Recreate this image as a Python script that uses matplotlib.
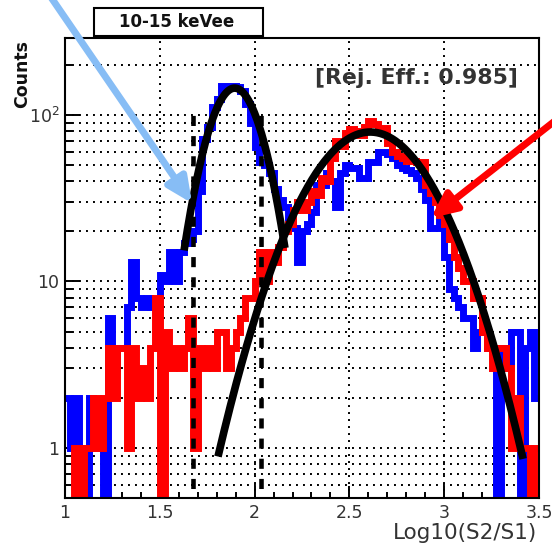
import numpy as np
import matplotlib
matplotlib.use('Agg')
import matplotlib.pyplot as plt
from matplotlib.ticker import FixedLocator, MultipleLocator, LogLocator, NullFormatter
from matplotlib.patches import Rectangle

# histogram binning (Log10(S2/S1))
BIN_LO, BIN_HI, N_BINS = 1.0, 3.5, 100

# counts per bin
blue_counts = [2, 1, 2, 1, 0, 2, 1, 1, 0, 6,
               3, 4, 4, 7, 13, 8, 7, 8, 7, 7,
               11, 10, 15, 10, 15, 17, 18, 20, 35, 72,
               85, 111, 125, 150, 150, 150, 148, 140, 116, 90,
               64, 52, 50, 45, 36, 31, 28, 23, 21, 13,
               20, 22, 26, 38, 38, 45, 40, 28, 45, 50,
               48, 48, 42, 42, 52, 52, 60, 60, 58, 55,
               50, 48, 47, 45, 42, 36, 31, 21, 21, 24,
               14, 9, 8, 7, 6, 6, 4, 5, 5, 4,
               4, 0, 4, 3, 5, 5, 0, 4, 5, 2]

red_counts = [0, 0, 1, 0, 1, 1, 2, 1, 2, 4,
              2, 4, 4, 1, 4, 2, 3, 2, 4, 8,
              0, 5, 3, 4, 3, 4, 6, 1, 4, 3,
              4, 3, 5, 5, 3, 4, 5, 6, 8, 8,
              10, 15, 10, 15, 13, 16, 20, 22, 27, 30,
              27, 30, 35, 33, 42, 40, 55, 70, 65, 78,
              82, 80, 76, 85, 92, 88, 84, 84, 68, 60,
              57, 55, 53, 53, 52, 52, 38, 34, 30, 25,
              22, 18, 14, 12, 10, 10, 8, 8, 5, 4,
              3, 4, 4, 3, 1, 2, 1, 1, 0, 1]

# gaussian fits: constant, mean, sigma, range
blue_fit = [145.0, 1.895, 0.126, 1.628, 2.160]
red_fit = [79.0, 2.61, 0.268, 1.807, 3.416]

# selection cut lines
cut_x = [1.675, 2.035]
cut_top = 108.0

x_ticks = [1.0, 1.5, 2.0, 2.5, 3.0, 3.5]
x_ticklabels = ['1', '1.5', '2', '2.5', '3', '3.5']
y_ticks = [1, 10, 100]
y_ticklabels = ['1', '10', r'$10^{2}$']

plt.rcParams['font.family'] = ['DejaVu Sans']
plt.rcParams['mathtext.default'] = 'regular'

W, H = 552, 548
fig = plt.figure(figsize=(W / 100, H / 100), dpi=100)
ax = fig.add_axes([65 / W, 1 - 498 / H, 474 / W, 460 / H])
ax.set_yscale('log')
ax.set_xlim(BIN_LO, BIN_HI)
ax.set_ylim(0.5, 290)

# grid
dots = (0, (1, 2.6))
ax.grid(True, which='major', axis='x', color='black', lw=1.4, linestyle=dots)
ax.grid(True, which='both', axis='y', color='black', lw=1.4, linestyle=dots)
ax.set_axisbelow(True)

edges = np.linspace(BIN_LO, BIN_HI, N_BINS + 1)
for counts, col in [(blue_counts, '#0000ff'), (red_counts, '#ff0000')]:
    c = np.asarray(counts, dtype=float)
    c = np.where(c > 0, c, 1e-3)
    ax.stairs(c, edges, color=col, lw=5, baseline=None,
              joinstyle='miter', capstyle='butt', zorder=1)

for xc in cut_x:
    ax.plot([xc, xc], [1e-3, cut_top], color='black', lw=3.3,
            linestyle=(0, (2.2, 2.2)), zorder=2.5)

for const, mu, sig, lo, hi in [blue_fit, red_fit]:
    xs = np.linspace(lo, hi, 300)
    ax.plot(xs, const * np.exp(-0.5 * ((xs - mu) / sig) ** 2), color='black',
            lw=5.5, solid_capstyle='butt', zorder=3)

# ticks
ax.xaxis.set_major_locator(FixedLocator(x_ticks))
ax.set_xticklabels(x_ticklabels)
ax.xaxis.set_minor_locator(MultipleLocator(0.1))
ax.yaxis.set_major_locator(FixedLocator(y_ticks))
ax.set_yticklabels(y_ticklabels)
ax.yaxis.set_minor_locator(LogLocator(base=10, subs=np.arange(2, 10)))
ax.yaxis.set_minor_formatter(NullFormatter())
ax.tick_params(axis='both', which='both', direction='in', top=False, right=False,
               width=1.4, colors='black', labelcolor='#333333', labelsize=12.5)
ax.tick_params(axis='x', which='major', length=8.5, pad=4)
ax.tick_params(axis='x', which='minor', length=4.5)
ax.tick_params(axis='y', which='major', length=11, pad=4)
ax.tick_params(axis='y', which='minor', length=5)
for s in ax.spines.values():
    s.set_linewidth(1.5)
    s.set_zorder(4)

# arrows pointing at the two populations
arrow_style = '-|>,head_length=0.75,head_width=0.35'
ax.annotate('', xy=(1.670, 29.5), xycoords='data',
            xytext=(46, H + 10), textcoords='figure pixels',
            arrowprops=dict(arrowstyle=arrow_style, color='#87bdf5', lw=5,
                            shrinkA=0, shrinkB=0, mutation_scale=20),
            annotation_clip=False, zorder=5)
ax.annotate('', xy=(2.930, 24.0), xycoords='data',
            xytext=(565, H - 113), textcoords='figure pixels',
            arrowprops=dict(arrowstyle=arrow_style, color='#ff0000', lw=5,
                            shrinkA=0, shrinkB=0, mutation_scale=20),
            annotation_clip=False, zorder=5)

# texts
fig.text(518 / W, 1 - 84 / H, '[Rej. Eff.: 0.985]', ha='right', va='baseline',
         fontsize=15.8, fontweight='bold', color='#333333')
fig.patches.append(Rectangle((94 / W, 1 - 36 / H), 169 / W, 28 / H,
                             transform=fig.transFigure, facecolor='white',
                             edgecolor='black', lw=1.5))
fig.text(177 / W, 1 - 27 / H, '10-15 keVee', ha='center', va='baseline',
         fontsize=12, fontweight='bold', color='#111111')
fig.text(22 / W, 1 - 40 / H, 'Counts', rotation=90, ha='center', va='top',
         fontsize=12.5, fontweight='bold', color='#111111')
fig.text(537 / W, 1 - 539 / H, 'Log10(S2/S1)', ha='right', va='baseline',
         fontsize=15.5, color='#333333')

fig.savefig('out.png', dpi=100)
